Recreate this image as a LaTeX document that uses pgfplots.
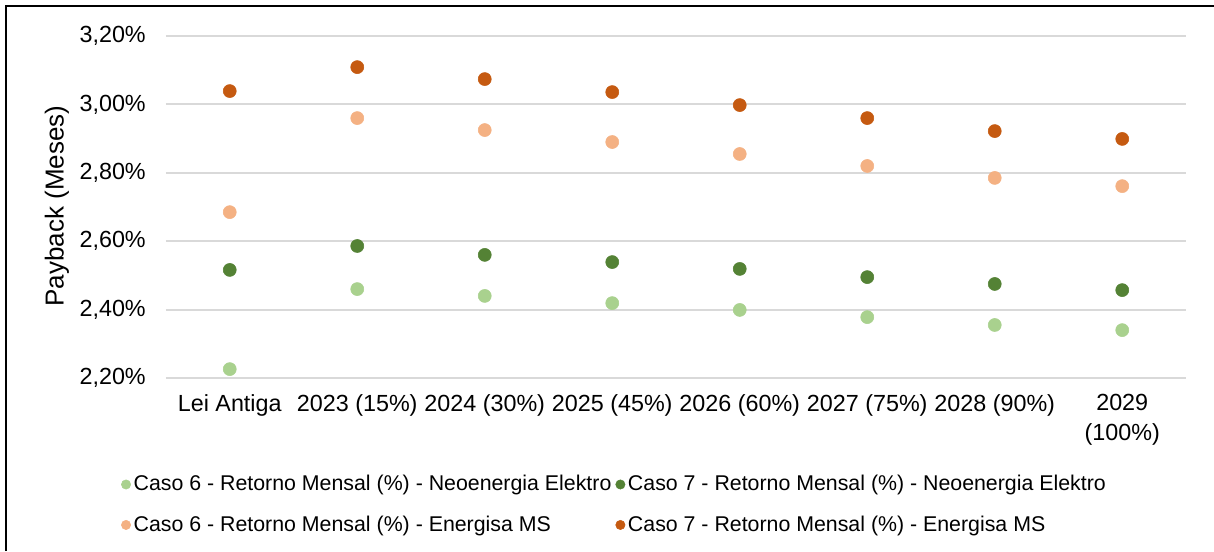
\documentclass[border=0pt]{standalone}
\usepackage{fontspec}
\setmainfont{Liberation Sans}
\usepackage{pgfplots}
\pgfplotsset{compat=1.18}
\usepackage{pgfplotstable}
\definecolor{lgreen}{HTML}{A9D18E}
\definecolor{dgreen}{HTML}{548235}
\definecolor{lorange}{HTML}{F4B183}
\definecolor{dorange}{HTML}{C55A11}
\definecolor{gridc}{HTML}{D9D9D9}
\pgfplotstableread{
x c6neo c7neo c6ms c7ms
0 2.226 2.516 2.685 3.039
1 2.460 2.586 2.960 3.109
2 2.440 2.560 2.925 3.074
3 2.419 2.539 2.890 3.036
4 2.399 2.519 2.855 2.998
5 2.378 2.495 2.820 2.960
6 2.355 2.475 2.785 2.922
7 2.340 2.457 2.761 2.899
}\datatable
\begin{document}
\fontsize{15}{18}\selectfont
\begin{tikzpicture}
\path[use as bounding box] (0pt,0pt) rectangle (910.5pt,413.25pt);
\draw[line width=1.5pt] (4.5pt,0pt) -- (4.5pt,408.75pt) -- (910.5pt,408.75pt);
\begin{axis}[
  at={(124.5pt,129.75pt)}, anchor=south west,
  scale only axis, width=765pt, height=256.5pt,
  xmin=-0.5, xmax=7.5, ymin=2.2, ymax=3.2,
  axis line style={draw=none},
  major tick length=0pt,
  ymajorgrids, major grid style={gridc, line width=1.4pt},
  ytick={2.2,2.4,2.6,2.8,3.0,3.2},
  yticklabels={{2,20\%},{2,40\%},{2,60\%},{2,80\%},{3,00\%},{3,20\%}},
  xtick={0,...,7},
  xticklabels={Lei Antiga,2023 (15\%),2024 (30\%),2025 (45\%),2026 (60\%),2027 (75\%),2028 (90\%),{2029\\(100\%)}},
  xticklabel style={align=center, font=\fontsize{17.5}{22.5}\selectfont, yshift=-7pt},
  yticklabel style={font=\fontsize{17.5}{21}\selectfont, xshift=-10pt},
  ylabel={Payback (Meses)},
  ylabel style={font=\fontsize{19.5}{23}\selectfont, at={(axis description cs:-0.107,0.503)}, anchor=center},
  clip=false,
  legend columns=2,
  legend style={draw=none, fill=none, at={(axis description cs:0.440,-0.268)}, anchor=north,
    font=\fontsize{16}{19}\selectfont,
    /tikz/every odd column/.append style={column sep=0pt},
    /tikz/every even column/.append style={column sep=1pt},
    /tikz/row sep=12.5pt},
  legend cell align=left,
  legend image code/.code={\fill (0pt,0pt) circle (3.5pt);},
]
\addplot[only marks, mark=*, mark size=4.9pt, color=lgreen] table[x=x,y=c6neo]{\datatable};
\addlegendentry{Caso 6 - Retorno Mensal (\%) - Neoenergia Elektro}
\addplot[only marks, mark=*, mark size=4.9pt, color=dgreen] table[x=x,y=c7neo]{\datatable};
\addlegendentry{Caso 7 - Retorno Mensal (\%) - Neoenergia Elektro}
\addplot[only marks, mark=*, mark size=4.9pt, color=lorange] table[x=x,y=c6ms]{\datatable};
\addlegendentry{Caso 6 - Retorno Mensal (\%) - Energisa MS}
\addplot[only marks, mark=*, mark size=4.9pt, color=dorange] table[x=x,y=c7ms]{\datatable};
\addlegendentry{Caso 7 - Retorno Mensal (\%) - Energisa MS}
\end{axis}
\end{tikzpicture}
\end{document}
